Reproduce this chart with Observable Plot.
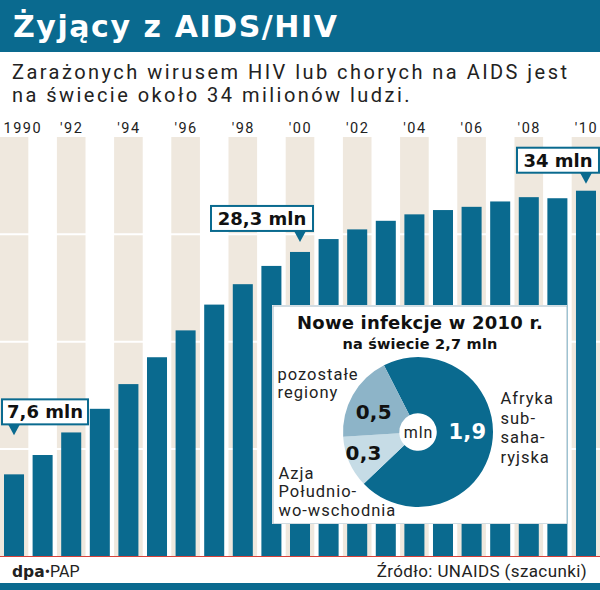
<!DOCTYPE html>
<html lang="pl"><head><meta charset="utf-8">
<script src="https://cdn.jsdelivr.net/npm/d3@7"></script>
<script src="https://cdn.jsdelivr.net/npm/@observablehq/plot@0.6"></script>
<style>
html,body{margin:0;padding:0;background:#fff;overflow:hidden;}
#chart{position:relative;width:600px;height:590px;overflow:hidden;background:#fff;}
#chart > *{position:absolute;}
</style></head><body>
<div id="chart">
<svg id="header" width="600" height="110" style="left:0;top:0">
  <rect width="600" height="52" fill="#0a6a8f"></rect>
  <text id="title" x="13" y="37" fill="#fff" style="font-family:'DejaVu Sans',sans-serif;font-weight:bold;font-size:30px"></text>
  <text id="sub1" x="12" y="79" fill="#222" style="font-family:Roboto,sans-serif;font-size:20px"></text>
  <text id="sub2" x="12" y="102" fill="#222" style="font-family:Roboto,sans-serif;font-size:20px"></text>
</svg>
<div id="main" style="left:0;top:110px"></div>
<div id="inset" style="left:272px;top:305px"></div>
<svg id="footer" width="600" height="33" style="left:0;top:557px">
  <text x="12" y="20" fill="#222" style="font-family:Roboto,sans-serif;font-size:16px"><tspan id="brand1" style="font-family:'DejaVu Sans',sans-serif;font-weight:bold;font-size:15.5px"></tspan><tspan id="brand2"></tspan></text>
  <text id="src" x="587" y="20" text-anchor="end" fill="#222" style="font-family:Roboto,sans-serif;font-size:17px"></text>
  <rect y="26" width="600" height="7" fill="#0a6a8f"></rect>
</svg>
</div>
<script>
// ---------- texts ----------
const titleText = "Żyjący z AIDS/HIV";
const subtitleLines = ["Zarażonych wirusem HIV lub chorych na AIDS jest", "na świecie około 34 milionów ludzi."];
const brandBold = "dpa", brandRegular = "•PAP";
const sourceText = "Źródło: UNAIDS (szacunki)";

// ---------- main series: people living with HIV (mln) ----------
const years = [1990, 1991, 1992, 1993, 1994, 1995, 1996, 1997, 1998, 1999, 2000,
               2001, 2002, 2003, 2004, 2005, 2006, 2007, 2008, 2009, 2010];
const living = [7.6, 9.4, 11.5, 13.7, 16.0, 18.5, 21.0, 23.4, 25.3, 27.0, 28.3,
                29.5, 30.4, 31.2, 31.8, 32.2, 32.5, 33.0, 33.4, 33.3, 34.0];
const tickYears = [1990, 1992, 1994, 1996, 1998, 2000, 2002, 2004, 2006, 2008, 2010];
const tickLabels = ["1990", "'92", "'94", "'96", "'98", "'00", "'02", "'04", "'06", "'08", "'10"];
const gridValues = [10, 20, 30];
const yMax = 39;

const calloutYears = [1990, 2000, 2010];
const calloutLabels = ["7,6 mln", "28,3 mln", "34 mln"];

// ---------- inset: new infections 2010 ----------
const insetTitle = "Nowe infekcje w 2010 r.";
const insetSubtitle = "na świecie 2,7 mln";
const regionLabels = ["Afryka\nsub-\nsaha-\nryjska", "Azja\nPołudnio-\nwo-wschodnia", "pozostałe\nregiony"];
const newInfections = [1.9, 0.3, 0.5];
const valueLabels = ["1,9", "0,3", "0,5"];
const centerLabel = "mln";

// ---------- styles / layout ----------
const TEAL = "#0a6a8f", BEIGE = "#efe8de", RED = "#d8423a", INK = "#222";
const sliceColors = [TEAL, "#c6dce6", "#8db4c8"];
const calloutLayout = [
  {gap: 39, left: -12, w: 86},
  {gap: 10, left: -89, w: 102},
  {gap: 7,  left: -69, w: 82}
];
const BOX_H = 25, PTR_H = 11, PTR_W = 13;

// header / footer text
document.getElementById("title").textContent = titleText;
document.getElementById("sub1").textContent = subtitleLines[0];
document.getElementById("sub2").textContent = subtitleLines[1];
document.getElementById("brand1").textContent = brandBold;
document.getElementById("brand2").textContent = brandRegular;
document.getElementById("src").textContent = sourceText;

function fitText(el, target) {
  el.style.letterSpacing = "0px";
  const w = el.getComputedTextLength();
  const n = el.textContent.length;
  const ls = (target - w) / Math.max(1, n - 1);
  el.style.letterSpacing = ls + "px";
  return ls;
}
fitText(document.getElementById("title"), 324);
const subLs = fitText(document.getElementById("sub1"), 555);
document.getElementById("sub2").style.letterSpacing = subLs + "px";
fitText(document.getElementById("src"), 210);

// ---------- main plot ----------
const bars = years.map((year, i) => ({year, value: living[i]}));

function calloutMark(index, scales) {
  const g = d3.create("svg:g");
  const bw = scales.x.bandwidth ? scales.x.bandwidth() : 0;
  calloutYears.forEach((yr, i) => {
    const v = living[years.indexOf(yr)];
    const L = calloutLayout[i];
    const tx = scales.x(yr) + bw / 2;
    const ty = scales.y(v) - L.gap;
    const by = ty - PTR_H - BOX_H;
    const bx = tx + L.left;
    g.append("path")
      .attr("d", `M${tx - PTR_W / 2},${ty - PTR_H - 1}L${tx + PTR_W / 2},${ty - PTR_H - 1}L${tx},${ty}Z`)
      .attr("fill", TEAL);
    g.append("rect")
      .attr("x", bx).attr("y", by).attr("width", L.w).attr("height", BOX_H)
      .attr("fill", "#fff").attr("stroke", TEAL).attr("stroke-width", 2);
    g.append("text")
      .attr("x", bx + L.w / 2).attr("y", by + 19)
      .attr("text-anchor", "middle")
      .attr("font-family", "DejaVu Sans, sans-serif")
      .attr("font-weight", "bold").attr("font-size", 18)
      .attr("fill", "#111")
      .style("letter-spacing", "0px")
      .text(calloutLabels[i]);
  });
  return g.node();
}

const mainPlot = Plot.plot({
  width: 600, height: 447,
  marginTop: 27, marginBottom: 1, marginLeft: 0, marginRight: 0,
  style: {fontFamily: "Roboto, 'Noto Sans', sans-serif", background: "transparent", letterSpacing: "1.5px"},
  x: {type: "band", domain: years, paddingInner: 0.3, paddingOuter: 0.14, round: false, axis: null},
  y: {domain: [0, yMax], axis: null},
  marks: [
    Plot.barY(tickYears, {x: d => d, y1: 0, y2: yMax, fill: BEIGE, insetLeft: -4.3, insetRight: -4.3}),
    Plot.ruleY(gridValues, {stroke: "#fff", strokeWidth: 2}),
    Plot.barY(bars, {x: "year", y: "value", fill: TEAL}),
    Plot.ruleY([0], {stroke: RED, strokeWidth: 1.2}),
    Plot.text(tickYears.slice(1), {x: d => d, text: d => tickLabels[tickYears.indexOf(d)],
      frameAnchor: "top", lineAnchor: "bottom", dy: -5, fontSize: 14.5, fill: INK}),
    Plot.text(tickYears.slice(0, 1), {x: d => d, text: d => tickLabels[tickYears.indexOf(d)],
      frameAnchor: "top", lineAnchor: "bottom", textAnchor: "start", dx: -11, dy: -5, fontSize: 14.5, fill: INK}),
    calloutMark
  ]
});
document.getElementById("main").appendChild(mainPlot);

// ---------- inset donut ----------
const W = 295, H = 219, CX = 146, CY = 127, R = 75, INNER = 0.25;
const START = -27 * Math.PI / 180;
const pie = d3.pie().sort(null).startAngle(START).endAngle(START + 2 * Math.PI);
const arcs = pie(newInfections);
const unitArc = d3.arc().innerRadius(INNER).outerRadius(1);
const nudges = [[2.7, -8], [-12, 2], [-4, 3]]; // px label nudges
const valuePts = arcs.map((a, i) => {
  const [ux, uy] = unitArc.centroid(a);
  return {x: ux + nudges[i][0] / R, y: -(uy + nudges[i][1] / R), label: valueLabels[i], i};
});

function donutMark(index, scales) {
  const cx = scales.x(0), cy = scales.y(0), r = scales.x(1) - scales.x(0);
  const arc = d3.arc().innerRadius(r * INNER).outerRadius(r);
  const g = d3.create("svg:g").attr("transform", `translate(${cx},${cy})`);
  g.selectAll("path").data(arcs).join("path")
    .attr("d", arc).attr("fill", (d, i) => sliceColors[i]);
  return g.node();
}

const insetPlot = Plot.plot({
  width: W, height: H, margin: 0,
  style: {fontFamily: "Roboto, 'Noto Sans', sans-serif", background: "#fff", letterSpacing: "1px"},
  x: {domain: [-CX / R, (W - CX) / R], axis: null},
  y: {domain: [-(H - CY) / R, CY / R], axis: null},
  marks: [
    Plot.frame({stroke: "#a3b9c5", strokeWidth: 1, inset: 0.5}),
    donutMark,
    Plot.text(valuePts.filter(d => d.i === 0), {x: "x", y: "y", text: "label", fill: "#fff",
      fontFamily: "DejaVu Sans, sans-serif", fontWeight: "bold", fontSize: 21}),
    Plot.text(valuePts.filter(d => d.i !== 0), {x: "x", y: "y", text: "label", fill: "#111",
      fontFamily: "DejaVu Sans, sans-serif", fontWeight: "bold", fontSize: 20}),
    Plot.text([centerLabel], {x: () => 0, y: () => 0, text: d => d, fontSize: 16, fill: INK}),
    Plot.text([insetTitle], {text: d => d, frameAnchor: "top", lineAnchor: "bottom", dy: 23,
      fontFamily: "DejaVu Sans, sans-serif", fontWeight: "bold", fontSize: 18, fill: "#111"}),
    Plot.text([insetSubtitle], {text: d => d, frameAnchor: "top", lineAnchor: "bottom", dy: 43,
      fontFamily: "DejaVu Sans, sans-serif", fontWeight: "bold", fontSize: 14.5, fill: "#111"}),
    Plot.text([regionLabels[2]], {text: d => d, frameAnchor: "top-left", textAnchor: "start",
      lineAnchor: "bottom", dx: 5, dy: 92, fontSize: 16.5, lineHeight: 1.08, fill: INK}),
    Plot.text([regionLabels[0]], {text: d => d, frameAnchor: "top-left", textAnchor: "start",
      lineAnchor: "bottom", dx: 228, dy: 157, fontSize: 16.5, lineHeight: 1.18, fill: INK}),
    Plot.text([regionLabels[1]], {text: d => d, frameAnchor: "top-left", textAnchor: "start",
      lineAnchor: "bottom", dx: 6, dy: 210, fontSize: 16.5, lineHeight: 1.12, fill: INK})
  ]
});
insetPlot.querySelectorAll('g[font-weight="bold"] text').forEach(t => t.style.letterSpacing = "0.2px");
document.getElementById("inset").appendChild(insetPlot);
</script>
</body></html>
